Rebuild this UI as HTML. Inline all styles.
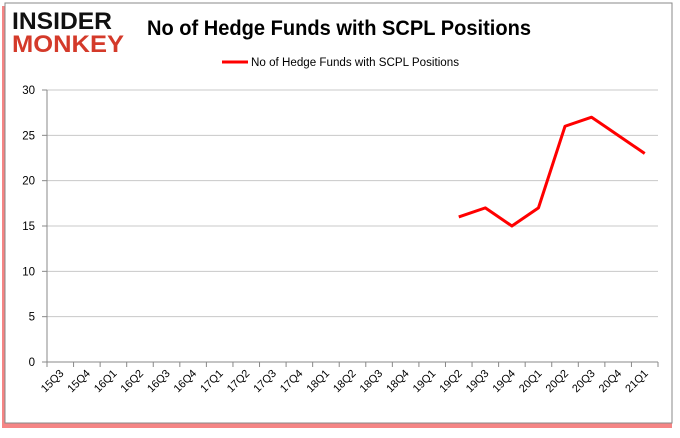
<!DOCTYPE html>
<html><head><meta charset="utf-8"><style>
body{margin:0;background:#fff;width:680px;height:433px;overflow:hidden;font-family:"Liberation Sans",sans-serif}
</style></head><body>
<svg width="680" height="433">
<rect x="2" y="6" width="670" height="422" fill="#e33" opacity="0.6"/>
<rect x="5" y="3" width="667" height="420" fill="#fff" stroke="#888"/>
<g>
<text x="12" y="29" font-size="24" font-weight="bold" fill="#111" textLength="100" lengthAdjust="spacingAndGlyphs">INSIDER</text>
<text x="12" y="52" font-size="24" font-weight="bold" fill="#d43a2a" textLength="112" lengthAdjust="spacingAndGlyphs">MONKEY</text>
</g>
<text x="147" y="35" font-size="21" font-weight="bold" fill="#000" textLength="384" lengthAdjust="spacingAndGlyphs">No of Hedge Funds with SCPL Positions</text>
<line x1="222" y1="62" x2="248" y2="62" stroke="red" stroke-width="3"/>
<text x="251" y="66" font-size="11.5" fill="#000" textLength="208" lengthAdjust="spacingAndGlyphs">No of Hedge Funds with SCPL Positions</text>
<g id="grid"></g><g id="axes"></g><g id="series"></g>
</svg>
<script>
const categories=["15Q3","15Q4","16Q1","16Q2","16Q3","16Q4","17Q1","17Q2","17Q3","17Q4","18Q1","18Q2","18Q3","18Q4","19Q1","19Q2","19Q3","19Q4","20Q1","20Q2","20Q3","20Q4","21Q1"];
const values=[null,null,null,null,null,null,null,null,null,null,null,null,null,null,null,16,17,15,17,26,27,25,23];
const yTicks=[0,5,10,15,20,25,30];
const X0=47,X1=658,Y0=362,Y1=90,YMAX=30;
const ns="http://www.w3.org/2000/svg";
const step=(X1-X0)/categories.length;
const xs=i=>X0+step*(i+0.5);
const ys=v=>Y0-(Y0-Y1)*v/YMAX;
function mk(t,a,p){const e=document.createElementNS(ns,t);for(const k in a)e.setAttribute(k,a[k]);p.appendChild(e);return e;}
const grid=document.getElementById('grid'),axes=document.getElementById('axes'),ser=document.getElementById('series');
yTicks.forEach(v=>{
 const l=mk('line',{x1:X0,x2:X1,y1:ys(v),y2:ys(v),stroke:v===0?'#888':'#c8c8c8'},grid);
 
 
 const tk=mk('line',{x1:X0-5,x2:X0,y1:ys(v),y2:ys(v),stroke:'#888'},axes);
 
 
 const t=mk('text',{x:X0-12,y:ys(v)+4,'font-size':11.5,'text-anchor':'end'},axes);
 t.textContent=v;
 
 
});
const ya=mk('line',{x1:X0,x2:X0,y1:Y1,y2:Y0,stroke:'#888'},axes);


for(let i=0;i<=categories.length;i++){
 const x=X0+step*i;
 const tk=mk('line',{x1:x,x2:x,y1:Y0,y2:Y0+5,stroke:'#888'},axes);
 
 
}
categories.forEach((c,i)=>{
 const x=xs(i)+4,y=Y0+12;
 const t=mk('text',{x:x,y:y,'font-size':11,'text-anchor':'end',transform:`rotate(-45 ${x} ${y})`},axes);
 t.textContent=c;
 
 
});
let d='';values.forEach((v,i)=>{if(v==null)return;d+=(d?'L':'M')+xs(i)+','+ys(v);});
const p=mk('path',{d:d,fill:'none',stroke:'red','stroke-width':3,'stroke-linejoin':'round'},ser);


</script>
</body></html>
